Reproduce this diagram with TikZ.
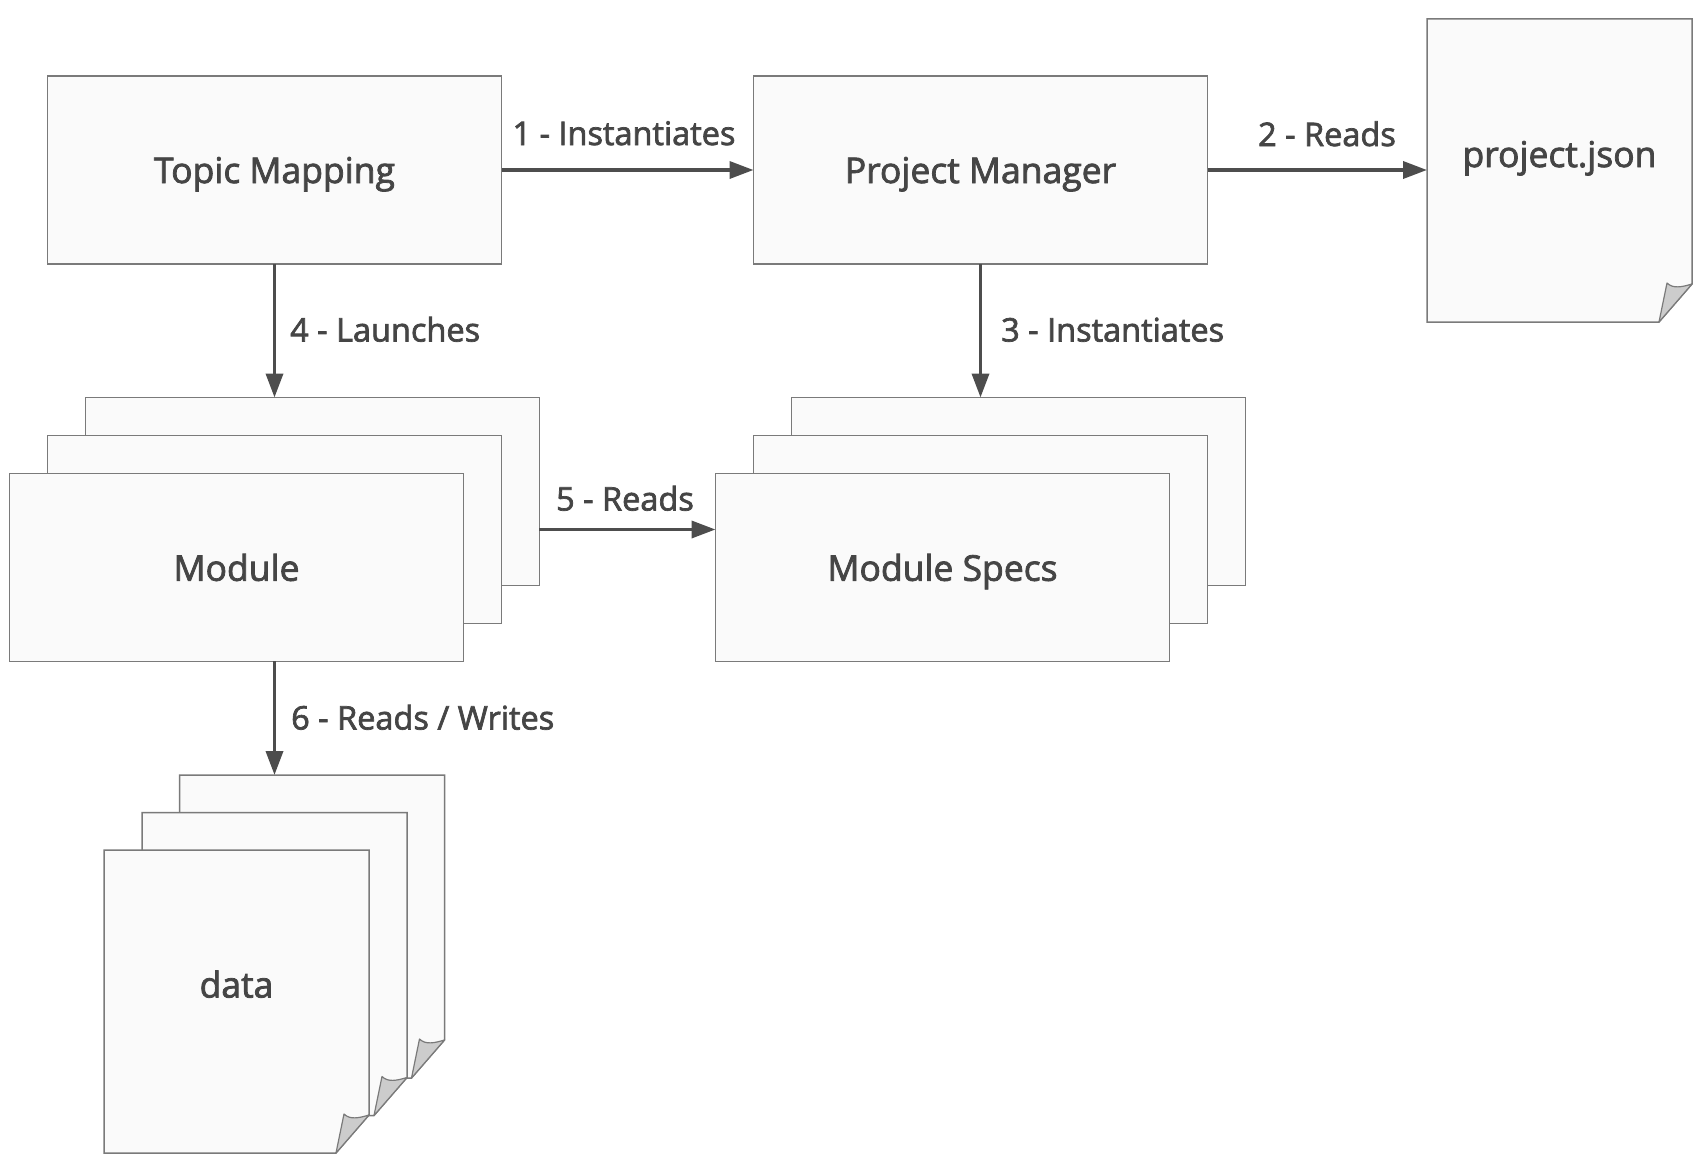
\documentclass[tikz,border=0pt]{standalone}
\usepackage{fontspec}
\setmainfont{Open Sans}[UprightFeatures={FakeBold=2.2}]
\usetikzlibrary{arrows.meta,calc}
\definecolor{boxline}{HTML}{7A7A7A}
\definecolor{boxfill}{HTML}{FAFAFA}
\definecolor{txt}{HTML}{454545}
\definecolor{arrowc}{HTML}{4D4D4D}
\definecolor{foldc}{HTML}{CCCCCC}
\tikzset{
  box/.style={draw=boxline, fill=boxfill, line width=1.5pt, inner sep=0pt, outer sep=0pt,
    minimum width=454pt, minimum height=188pt, text=txt, text depth=0pt, font=\fontsize{35.5}{42}\selectfont},
  docarea/.style={inner sep=0pt, outer sep=0pt, minimum width=265pt, minimum height=303pt},
  docline/.style={draw=boxline, fill=boxfill, line width=1.5pt, line join=miter},
  foldline/.style={draw=boxline, fill=foldc, line width=1.2pt, line join=round},
  doctext/.style={text=txt, text depth=0pt, font=\fontsize{35.5}{42}\selectfont},
  arr/.style={draw=arrowc, line width=3.6pt, -{Triangle[length=24pt,width=17pt]}},
  lbl/.style={text=txt, font=\fontsize{32.5}{38}\selectfont, inner sep=0pt, anchor=base}
}
\newcommand{\docpage}[1]{%
  \path[docline] (#1.north west) -- (#1.north east) -- ($(#1.south east)+(0,-38)$)
    -- ($(#1.south east)+(-33,0)$) -- (#1.south west) -- cycle;
  \path[foldline] ($(#1.south east)+(-33,0)$) -- ($(#1.south east)+(-25,-39)$)
    .. controls ($(#1.south east)+(-19,-33)$) and ($(#1.south east)+(-10,-35)$) .. ($(#1.south east)+(0,-38)$) -- cycle;}
\begin{document}
\begin{tikzpicture}[x=1pt,y=-1pt]
\useasboundingbox (0,0) rectangle (1701,1172);
% top row
\node[box] (tm) at (274.5,170) {Topic Mapping};
\node[box] (pm) at (980.5,170) {Project Manager};
% project.json
\node[docarea] (pj) at (1559.5,170.5) {};
\docpage{pj}
\node[doctext] (pjt) at (1559.5,154) {project.json};
% Module stack
\node[box] (modback) at (312.3,491.5) {};
\node[box] (modmid) at (274.6,529.5) {};
\node[box] (modfront) at (236.5,567.3) {Module};
% Module Specs stack
\node[box] (specback) at (1018.5,491.5) {};
\node[box] (specmid) at (980.5,529.5) {};
\node[box] (specfront) at (942.5,567.3) {Module Specs};
% data stack
\node[docarea] (databack) at (312,926.5) {};
\docpage{databack}
\node[docarea] (datamid) at (274.5,964) {};
\docpage{datamid}
\node[docarea] (datafront) at (236.5,1001.5) {};
\docpage{datafront}
\node[doctext] (datat) at (236.5,984) {data};
% connectors
\coordinate (y5) at (0,529.5);
\draw[arr] (tm.east) -- (pm.west);
\draw[arr] (pm.east) -- (pm.east -| pj.west);
\draw[arr] (pm.south) -- (pm.south |- specback.north);
\draw[arr] (tm.south) -- (tm.south |- modback.north);
\draw[arr] (modback.east |- y5) -- (specfront.west |- y5);
\draw[arr] (tm.south |- modfront.south) -- (tm.south |- databack.north);
% labels
\node[lbl] (l1) at (624,145) {1 - Instantiates};
\node[lbl] (l2) at (1327,146) {2 - Reads};
\node[lbl, anchor=base west] (l3) at (1001,341.5) {3 - Instantiates};
\node[lbl, anchor=base west] (l4) at (290,341.5) {4 - Launches};
\node[lbl] (l5) at (625,510.5) {5 - Reads};
\node[lbl, anchor=base west] (l6) at (291,729.5) {6 - Reads / Writes};
\end{tikzpicture}
\end{document}
